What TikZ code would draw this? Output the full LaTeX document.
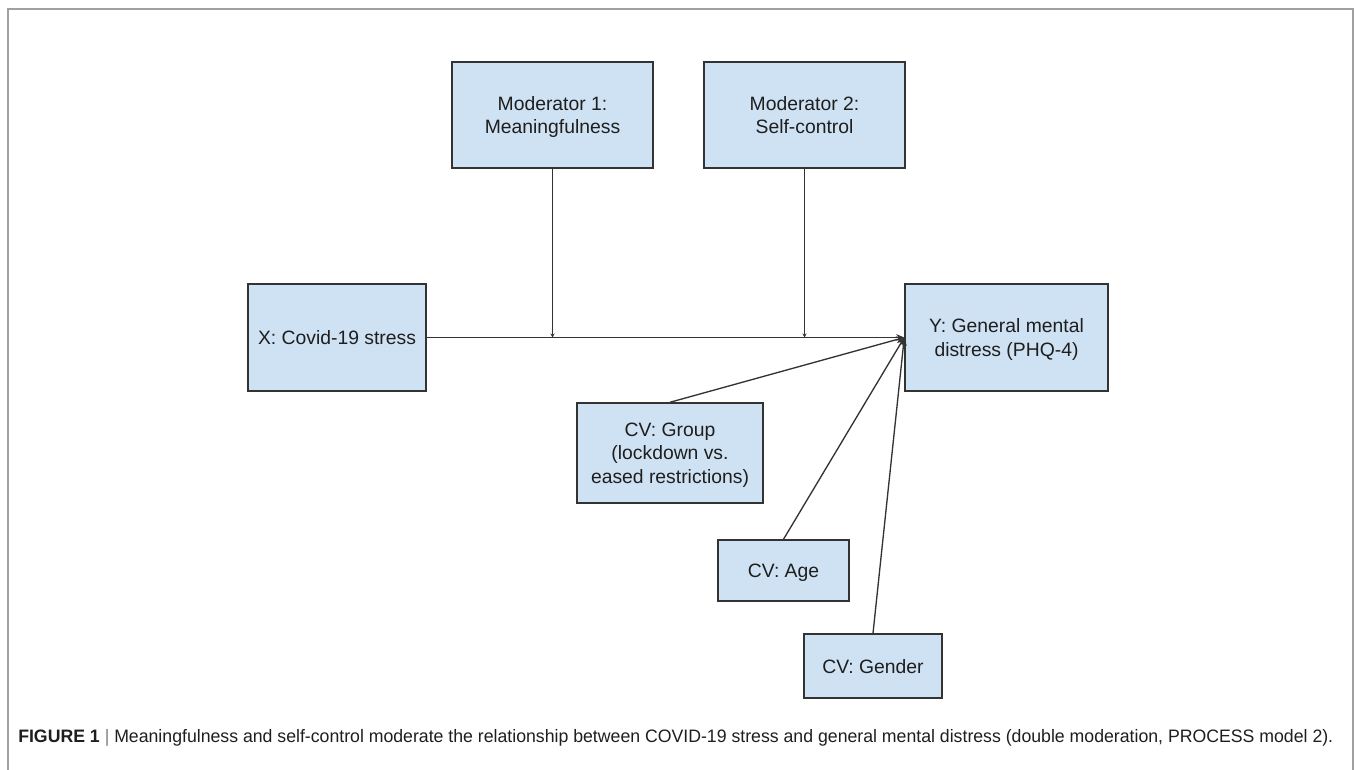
\documentclass[tikz,border=0pt]{standalone}
\usepackage{fontspec}
\setmainfont{Liberation Sans}
\usepackage{graphicx}
\usetikzlibrary{arrows.meta,positioning}
\definecolor{boxfill}{HTML}{CFE2F3}
\definecolor{boxline}{HTML}{333333}
\definecolor{framegray}{HTML}{A0A0A0}
\definecolor{txt}{HTML}{1E1E1E}
\begin{document}
\begin{tikzpicture}[x=0.75pt,y=-0.75pt,
  varbox/.style={draw=boxline,line width=1.1pt,fill=boxfill,rectangle,align=center,
    font=\fontsize{14.5}{17.5}\selectfont,text=txt,inner sep=0pt,text depth=0pt},
  conn/.style={draw=boxline,line width=1pt},
  arr/.style={conn,-{Stealth[length=6pt,width=5pt]}},
  tinyarr/.style={conn,-{Stealth[length=3pt,width=3pt]}}]
\useasboundingbox (0,0) rectangle (1354,770);
% frame
\draw[framegray,line width=0.9pt] (8,770) -- (8,9) -- (1353,9) -- (1353,770);
% boxes
\node[varbox,minimum width=201*0.75pt,minimum height=106*0.75pt] (m1) at (552.5,115) {Moderator 1:\\Meaningfulness};
\node[varbox,minimum width=201*0.75pt,minimum height=106*0.75pt] (m2) at (804.5,115) {Moderator 2:\\Self-control};
\node[varbox,minimum width=178*0.75pt,minimum height=107*0.75pt] (x) at (337,337.5) {X: Covid-19 stress};
\node[varbox,minimum width=203*0.75pt,minimum height=107*0.75pt] (y) at (1006.5,337.5) {Y: General mental\\distress (PHQ-4)};
\node[varbox,minimum width=186*0.75pt,minimum height=100*0.75pt] (g) at (670,453) {CV: Group\\(lockdown vs.\\eased restrictions)};
\node[varbox,minimum width=131*0.75pt,minimum height=61*0.75pt] (a) at (783.5,570.5) {CV: Age};
\node[varbox,minimum width=138*0.75pt,minimum height=64*0.75pt] (ge) at (873,666) {CV: Gender};
% connectors
\coordinate (j1) at (m1.south |- x.east);
\coordinate (j2) at (m2.south |- x.east);
\draw[arr] (x.east) -- (y.west);
\draw[tinyarr] (m1.south) -- (j1);
\draw[tinyarr] (m2.south) -- (j2);
\draw[arr] (g.north) -- (y.west);
\draw[arr] (a.north) -- (y.west);
\draw[arr] (ge.north) -- (y.west);
% caption
\node[anchor=base west,inner sep=0pt,text=txt] (cap) at (18,742)
  {\resizebox{1315\dimexpr0.75pt\relax}{\height}{\fontsize{13.5}{15}\selectfont\textbf{FIGURE 1}\ \textcolor{gray}{|}\ Meaningfulness and self-control moderate the relationship between COVID-19 stress and general mental distress (double moderation, PROCESS model 2).}};
\end{tikzpicture}
\end{document}
